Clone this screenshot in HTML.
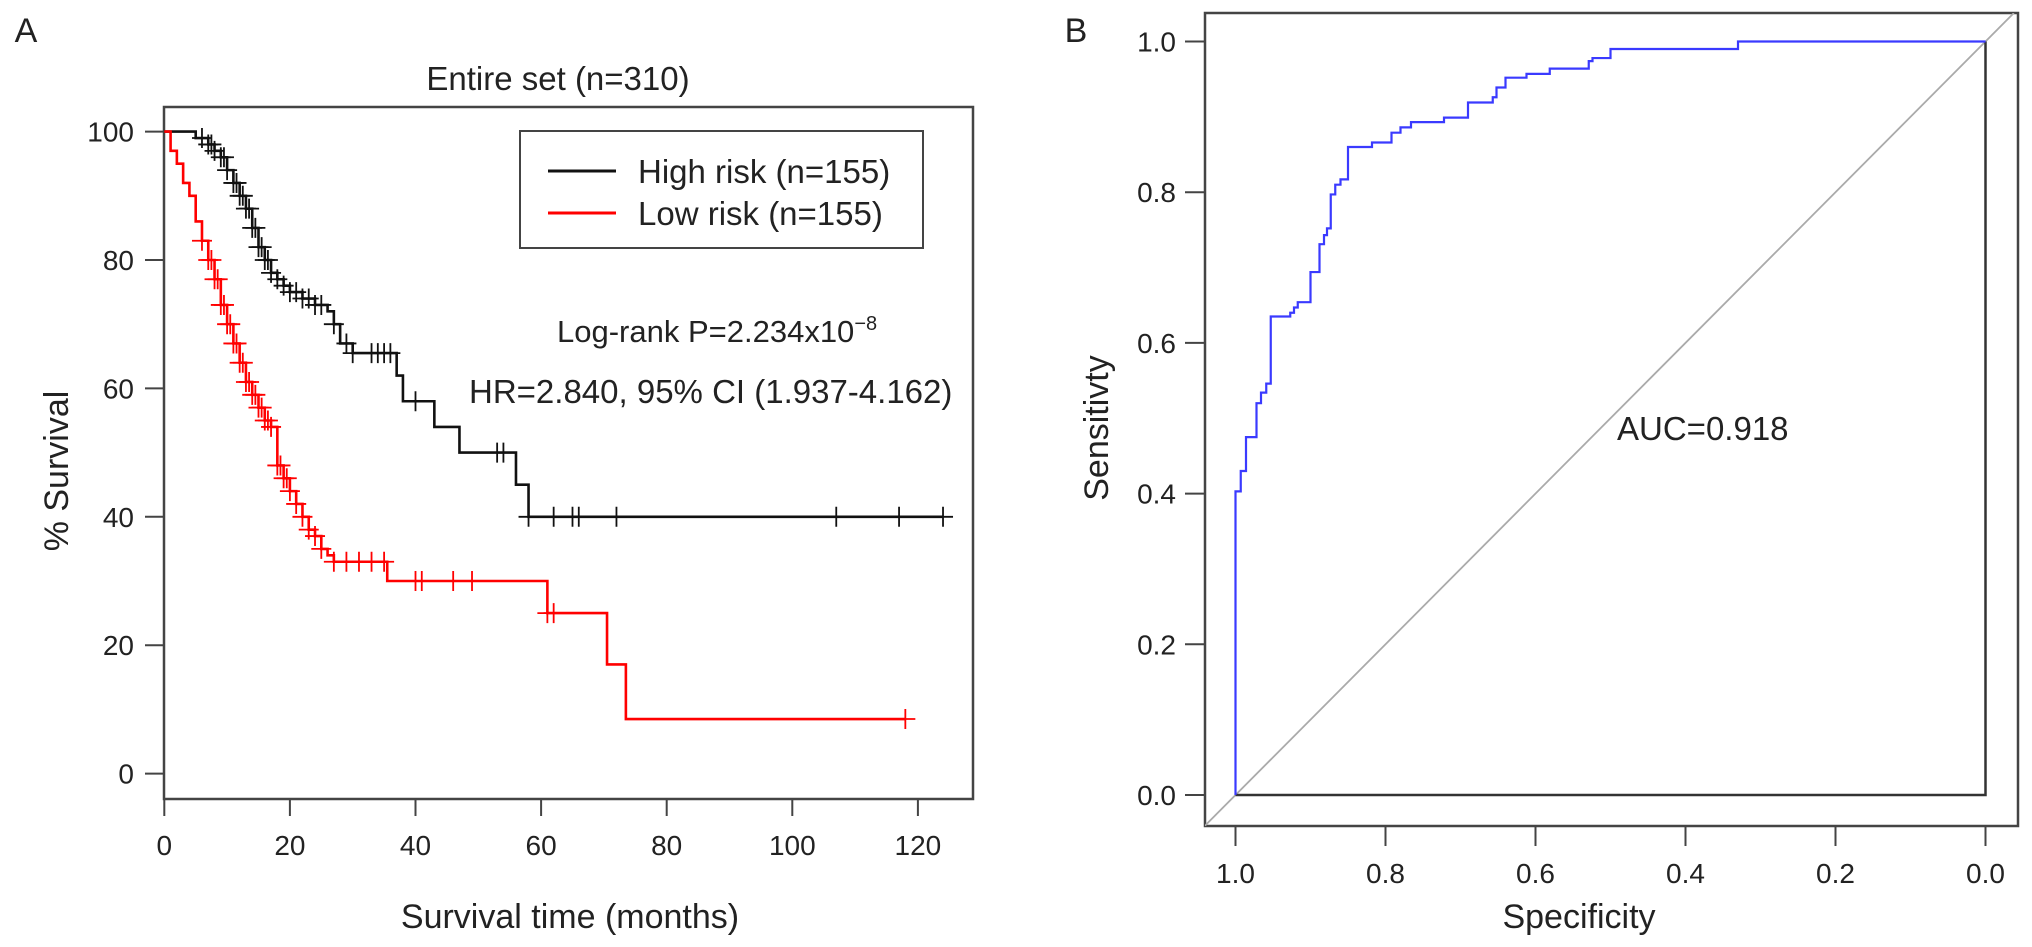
<!DOCTYPE html>
<html><head><meta charset="utf-8"><style>
html,body{margin:0;padding:0;background:#fff;}
svg{display:block;font-family:"Liberation Sans",sans-serif;}
</style></head><body>
<svg id="fig" width="2032" height="947" viewBox="0 0 2032 947">
</svg>
<script>
// ---- Panel A data (Kaplan-Meier) ----
const highTimes = [0,5,7,8,9,10,11,12,13,14,15,16,17,18,19,20,22,24,26,27,28,30,37,38,43,47,56,58,124];
const highSurv  = [100,99,98,97,96,94,92,90,88,85,82,80,78,77,76,75,74,73,72,70,67,65.5,62,58,54,50,45,40,40];
const highCens  = [6,7,7.5,8,9,9.5,10,11,11.5,12,12.5,13,13.5,14,14.5,15,15.5,16,16.5,17,18,19,20,21,22,23,24,25,27,29,30,33,34,35,36,40,53,54,58,62,65,66,72,107,117,124];
const lowTimes  = [0,1,2,3,4,5,6,7,8,9,10,11,12,13,14,15,16,17,18,19,20,21,22,23,24,25,26,27,35.5,61,70.5,73.5,118];
const lowSurv   = [100,97,95,92,90,86,83,80,77,73,70,67,64,61,59,57,55,54,48,46,44,42,40,38,37,35,34,33,30,25,17,8.5,8.5];
const lowCens   = [6,7,7.5,8,8.5,9,9.5,10,10.5,11,11.5,12,12.5,13,13.5,14,14.5,15,15.5,16,16.5,17,18,18.5,19,19.5,20,21,22,23,24,25,27,29,31,33,35,40,41,46,49,61,62,118];
const kmXTicks = [0,20,40,60,80,100,120];
const kmYTicks = [0,20,40,60,80,100];
// ---- Panel B data (ROC) ----
const rocSpec = [1.0,0.993,0.986,0.972,0.966,0.959,0.953,0.927,0.922,0.917,0.90,0.888,0.882,0.878,0.873,0.867,0.860,0.85,0.818,0.792,0.78,0.766,0.722,0.690,0.657,0.652,0.640,0.612,0.581,0.529,0.524,0.50,0.33,0.0];
const rocSens = [0.403,0.43,0.475,0.52,0.534,0.546,0.635,0.64,0.647,0.654,0.694,0.731,0.743,0.752,0.797,0.81,0.817,0.86,0.866,0.879,0.886,0.893,0.899,0.919,0.926,0.939,0.952,0.957,0.964,0.974,0.978,0.99,1.0,1.0];
const rocTicks = [0.0,0.2,0.4,0.6,0.8,1.0];

const NS="http://www.w3.org/2000/svg";
const svg=document.getElementById('fig');
function mk(tag,attrs,parent){const e=document.createElementNS(NS,tag);for(const k in attrs)e.setAttribute(k,attrs[k]);(parent||svg).appendChild(e);return e;}
function txt(s,x,y,size,anchor,parent,extra){const t=mk('text',Object.assign({x:x,y:y,'font-size':size,'text-anchor':anchor||'middle',fill:'#222'},extra||{}),parent);t.textContent=s;return t;}

// ===== Panel A =====
const A=mk('g',{});


const ax=t=>164.3+t*6.28, ay=v=>773.6-v*6.42;
let e;
e=txt('A',26,42,34,'middle',A);
e=txt('Entire set (n=310)',558,90,33,'middle',A);
e=mk('rect',{x:164,y:107,width:809,height:692,fill:'none',stroke:'#444','stroke-width':2.5},A);
kmYTicks.forEach(v=>{mk('line',{x1:145,x2:164,y1:ay(v),y2:ay(v),stroke:'#444','stroke-width':2},A);
 e=txt(String(v),134,ay(v)+10,28,'end',A);});
kmXTicks.forEach(v=>{mk('line',{x1:ax(v),x2:ax(v),y1:799,y2:816,stroke:'#444','stroke-width':2},A);
 e=txt(String(v),ax(v),855,28,'middle',A);});
e=txt('% Survival',68,471,34,'middle',A,{transform:'rotate(-90 68 471)'});
e=txt('Survival time (months)',570,928,34,'middle',A);
function stepAt(times,surv,t){let s=surv[0];for(let i=0;i<times.length;i++){if(times[i]<=t)s=surv[i];}return s;}
function drawKM(times,surv,cens,color,name){
 let d='M'+ax(times[0])+','+ay(surv[0]);
 for(let i=1;i<times.length;i++){d+=' H'+ax(times[i])+' V'+ay(surv[i]);}
 const p=mk('path',{d:d,fill:'none',stroke:color,'stroke-width':2.6},A);
 
 
 cens.forEach(t=>{const y=ay(stepAt(times,surv,t));
  const c=mk('path',{d:`M${ax(t)-10},${y} H${ax(t)+10} M${ax(t)},${y-10} V${y+10}`,stroke:color,'stroke-width':1.8,fill:'none'},A);
  
  });
}
drawKM(highTimes,highSurv,highCens,'#111','high-risk');
drawKM(lowTimes,lowSurv,lowCens,'#f00','low-risk');
const L=mk('g',{},A);


mk('rect',{x:520,y:131,width:403,height:117,fill:'#fff',stroke:'#444','stroke-width':2},L);
mk('line',{x1:548,x2:616,y1:171,y2:171,stroke:'#111','stroke-width':3},L);
mk('line',{x1:548,x2:616,y1:213,y2:213,stroke:'#f00','stroke-width':3},L);
e=txt('High risk (n=155)',638,183,33,'start',L);
e=txt('Low risk (n=155)',638,225,33,'start',L);
e=mk('text',{x:557,y:342,'font-size':31,fill:'#222'},A);e.innerHTML='Log-rank P=2.234x10<tspan dy="-12" font-size="20">−8</tspan>';

e=txt('HR=2.840, 95% CI (1.937-4.162)',469,403,33,'start',A);

// ===== Panel B =====
const B=mk('g',{});


const bx=s=>1985.5-s*750, by=v=>795-v*753.5;
e=txt('B',1076,42,34,'middle',B);
e=mk('rect',{x:1205,y:13,width:813,height:813,fill:'none',stroke:'#444','stroke-width':2.5},B);
mk('clipPath',{id:'bclip'},B);
const cp=B.lastChild;mk('rect',{x:1205,y:13,width:813,height:813},cp);
e=mk('line',{x1:bx(1+(826-795)/753.5),y1:826,x2:bx(-((41.5-13)/753.5)),y2:13,stroke:'#aaa','stroke-width':1.8,'clip-path':'url(#bclip)'},B);

rocTicks.forEach(v=>{mk('line',{x1:1185,x2:1205,y1:by(v),y2:by(v),stroke:'#444','stroke-width':2},B);
 e=txt(v.toFixed(1),1176,by(v)+10,28,'end',B);
 mk('line',{x1:bx(v),x2:bx(v),y1:826,y2:846,stroke:'#444','stroke-width':2},B);
 e=txt(v.toFixed(1),bx(v),883,28,'middle',B);});
e=txt('Sensitivty',1108,428,34,'middle',B,{transform:'rotate(-90 1108 428)'});
e=txt('Specificity',1579,928,34,'middle',B);
e=mk('path',{d:`M${bx(1)},${by(0)} H${bx(0)} V${by(1)}`,fill:'none',stroke:'#333','stroke-width':2.5},B);

let d='M'+bx(1)+','+by(0);
for(let i=0;i<rocSpec.length;i++){d+=' H'+bx(rocSpec[i])+' V'+by(rocSens[i]);}
e=mk('path',{d:d,fill:'none',stroke:'#3a3aff','stroke-width':2.2},B);

e=txt('AUC=0.918',1617,440,33,'start',B);
</script>
</body></html>
